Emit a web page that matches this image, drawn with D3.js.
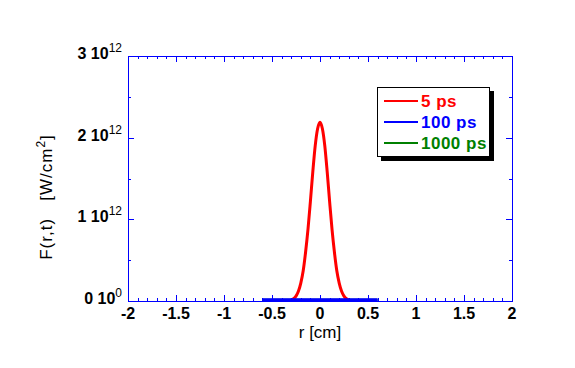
<!DOCTYPE html>
<html>
<head>
<meta charset="utf-8">
<script src="https://cdn.jsdelivr.net/npm/d3@7"></script>
<style>
  body { margin: 0; background: #fff; }
  svg { display: block; }
  text { font-family: "Liberation Sans", Arial, sans-serif; }
</style>
</head>
<body>
<svg id="chart" width="575" height="368"></svg>
<script>
// ---- data ----
const xTickValues = [-2, -1.5, -1, -0.5, 0, 0.5, 1, 1.5, 2];
const xTickLabels = ["-2", "-1.5", "-1", "-0.5", "0", "0.5", "1", "1.5", "2"];
const yTickValues = [0, 1e12, 2e12, 3e12];
const yTickMantissa = ["0", "1", "2", "3"];
const yTickExponent = ["0", "12", "12", "12"];

// 5 ps trace
const r5 = [-0.3, -0.275, -0.25, -0.225, -0.2, -0.175, -0.15, -0.125, -0.1, -0.075, -0.05, -0.025, 0,
            0.025, 0.05, 0.075, 0.1, 0.125, 0.15, 0.175, 0.2, 0.225, 0.25, 0.275, 0.3];
const f5 = [0.012e12, 0.028e12, 0.06e12, 0.12e12, 0.22e12, 0.37e12, 0.60e12, 0.88e12, 1.22e12, 1.58e12, 1.90e12, 2.11e12, 2.19e12,
            2.11e12, 1.90e12, 1.58e12, 1.22e12, 0.88e12, 0.60e12, 0.37e12, 0.22e12, 0.12e12, 0.06e12, 0.028e12, 0.012e12];
// 100 ps trace
const r100 = [-0.6, -0.4, -0.2, 0, 0.2, 0.4, 0.6];
const f100 = [0.015e12, 0.015e12, 0.016e12, 0.016e12, 0.016e12, 0.015e12, 0.015e12];
// 1000 ps trace
const r1000 = [-0.6, -0.4, -0.2, 0, 0.2, 0.4, 0.6];
const f1000 = [0.010e12, 0.010e12, 0.010e12, 0.010e12, 0.010e12, 0.010e12, 0.010e12];

const seriesNames = ["5 ps", "100 ps", "1000 ps"];
const seriesColors = ["#ff0000", "#0000ff", "#008000"];

// ---- layout ----
const L = 128, R = 512, T = 56, B = 301;
const axisColor = "#0000ff";

const svg = d3.select("#chart");
const x = d3.scaleLinear().domain([-2, 2]).range([L, R]);
const y = d3.scaleLinear().domain([0, 3e12]).range([B, T]);

svg.append("defs").append("clipPath").attr("id", "plotclip")
  .append("rect").attr("x", L).attr("y", T).attr("width", R - L).attr("height", B - T);

// ---- traces ----
const line = d3.line().x(d => x(d[0])).y(d => y(d[1])).curve(d3.curveMonotoneX);
const plot = svg.append("g").attr("clip-path", "url(#plotclip)");
const traces = [
  {r: r1000, f: f1000, c: seriesColors[2]},
  {r: r5, f: f5, c: seriesColors[0]},
  {r: r100, f: f100, c: seriesColors[1]}
];
traces.forEach(t => {
  plot.append("path")
    .datum(t.r.map((v, i) => [v, t.f[i]]))
    .attr("d", line)
    .attr("fill", "none")
    .attr("stroke", t.c)
    .attr("stroke-width", 3)
    .attr("stroke-linejoin", "round");
});

// ---- axes ticks (inward) ----
const minorX = d3.range(-2, 2.0001, 0.1).map(v => +v.toFixed(2));
const minorY = [0.5e12, 1.5e12, 2.5e12];
function styleAxis(g) {
  g.select(".domain").remove();
  g.selectAll("line").attr("stroke", axisColor).attr("stroke-width", 1).attr("shape-rendering", "crispEdges");
  g.selectAll("text").remove();
}
// bottom
svg.append("g").attr("transform", `translate(0,${B})`)
  .call(d3.axisTop(x).tickValues(minorX).tickSize(3).tickFormat("")).call(styleAxis);
svg.append("g").attr("transform", `translate(0,${B})`)
  .call(d3.axisTop(x).tickValues(xTickValues).tickSize(6).tickFormat("")).call(styleAxis);
// top
svg.append("g").attr("transform", `translate(0,${T})`)
  .call(d3.axisBottom(x).tickValues(minorX).tickSize(3).tickFormat("")).call(styleAxis);
svg.append("g").attr("transform", `translate(0,${T})`)
  .call(d3.axisBottom(x).tickValues(xTickValues).tickSize(6).tickFormat("")).call(styleAxis);
// left
svg.append("g").attr("transform", `translate(${L},0)`)
  .call(d3.axisRight(y).tickValues(minorY).tickSize(3).tickFormat("")).call(styleAxis);
svg.append("g").attr("transform", `translate(${L},0)`)
  .call(d3.axisRight(y).tickValues(yTickValues).tickSize(6).tickFormat("")).call(styleAxis);
// right
svg.append("g").attr("transform", `translate(${R},0)`)
  .call(d3.axisLeft(y).tickValues(minorY).tickSize(3).tickFormat("")).call(styleAxis);
svg.append("g").attr("transform", `translate(${R},0)`)
  .call(d3.axisLeft(y).tickValues(yTickValues).tickSize(6).tickFormat("")).call(styleAxis);

// frame
svg.append("rect").attr("x", L + 0.5).attr("y", T + 0.5).attr("width", R - L).attr("height", B - T)
  .attr("fill", "none").attr("stroke", axisColor).attr("stroke-width", 1);

// ---- tick labels ----
svg.append("g").selectAll("text").data(xTickValues).join("text")
  .attr("x", d => x(d)).attr("y", 319)
  .attr("text-anchor", "middle")
  .attr("font-size", 16).attr("font-weight", "bold").attr("fill", "#000")
  .text((d, i) => xTickLabels[i]);

const yl = svg.append("g").selectAll("text").data(yTickValues).join("text")
  .attr("x", 122).attr("y", d => y(d) + 3)
  .attr("text-anchor", "end")
  .attr("fill", "#000");
yl.append("tspan").attr("font-size", 16).attr("font-weight", "bold")
  .text((d, i) => yTickMantissa[i] + " 10");
yl.append("tspan").attr("font-size", 12).attr("dy", -7)
  .text((d, i) => yTickExponent[i]);

// ---- axis titles ----
svg.append("text").attr("x", 320).attr("y", 338).attr("text-anchor", "middle")
  .attr("font-size", 17).attr("fill", "#000").text("r [cm]");

const yt = svg.append("text")
  .attr("transform", "translate(52,197) rotate(-90)")
  .attr("text-anchor", "middle").attr("font-size", 17).attr("fill", "#000")
  .attr("letter-spacing", 1)
  .style("white-space", "pre");
yt.append("tspan").text("F(r,t)   [W/cm");
yt.append("tspan").attr("font-size", 12).attr("dy", -7).text("2");
yt.append("tspan").attr("dy", 7).text("]");

// ---- legend ----
const lg = svg.append("g");
lg.append("rect").attr("x", 381).attr("y", 91).attr("width", 113).attr("height", 70).attr("fill", "#000");
lg.append("rect").attr("x", 377.5).attr("y", 87.5).attr("width", 112).attr("height", 69)
  .attr("fill", "#fff").attr("stroke", "#000").attr("stroke-width", 1);
const rowY = [101, 122, 143];
seriesNames.forEach((n, i) => {
  lg.append("line").attr("x1", 384).attr("x2", 418).attr("y1", rowY[i]).attr("y2", rowY[i])
    .attr("stroke", seriesColors[i]).attr("stroke-width", 2);
  lg.append("text").attr("x", 421).attr("y", rowY[i] + 6)
    .attr("font-size", 17).attr("font-weight", "bold").attr("letter-spacing", 0.5)
    .attr("fill", seriesColors[i]).text(n);
});
</script>
</body>
</html>
